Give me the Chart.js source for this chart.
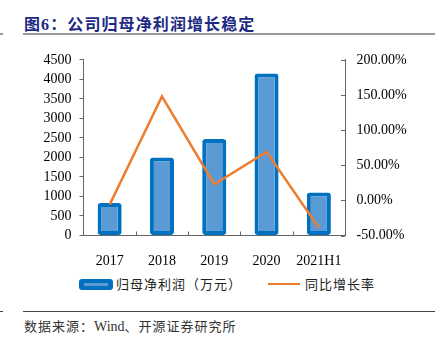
<!DOCTYPE html>
<html>
<head>
<meta charset="utf-8">
<script src="https://cdn.jsdelivr.net/npm/chart.js@4/dist/chart.umd.min.js"></script>
<style>
  body { margin: 0; width: 441px; height: 343px; background: #fff; position: relative; overflow: hidden; font-family: 'Noto Sans CJK SC', sans-serif; }
  .title { position: absolute; left: 24px; top: 12px; font-size: 16px; font-weight: 700; color: #1c2a84; letter-spacing: 1.1px; line-height: 22px; }
  .title .num { font-family: 'Liberation Serif', serif; }
  .rule { position: absolute; height: 0; }
  .chartBox { position: absolute; left: 0; top: 40px; width: 441px; height: 228px; }
  .legend { position: absolute; top: 275px; font-size: 13px; letter-spacing: 1px; color: #222; line-height: 18px; }
  .swatchBar { position: absolute; left: 79px; top: 279px; width: 34px; height: 11px; background: #0070C0; border-radius: 3px; }
  .swatchBar::after { content: ''; position: absolute; left: 5px; right: 5px; top: 4px; height: 3px; background: #5B9BD5; }
  .swatchLine { position: absolute; left: 268px; top: 283px; width: 32px; height: 2px; background: #ED7D31; }
  .source { position: absolute; left: 24px; top: 317px; font-size: 13px; letter-spacing: 1px; color: #333; line-height: 18px; }
  .source .en { font-family: 'Liberation Serif', serif; font-size: 14px; letter-spacing: 0; }
</style>
</head>
<body>
<div class="title">图<span class="num">6</span>：公司归母净利润增长稳定</div>
<div class="rule" style="left:0;top:33px;width:3px;border-top:2px solid #999;"></div>
<div class="rule" style="left:23px;top:33px;width:412px;border-top:2px solid #999;"></div>

<div class="chartBox"><canvas id="profitChart"></canvas></div>

<div class="swatchBar"></div>
<div class="legend" style="left:116px;">归母净利润（万元）</div>
<div class="swatchLine"></div>
<div class="legend" style="left:305px;">同比增长率</div>

<div class="rule" style="left:0;top:311px;width:3px;border-top:1px solid #444;"></div>
<div class="rule" style="left:23px;top:311px;width:412px;border-top:1px solid #444;"></div>
<div class="source">数据来源：<span class="en">Wind</span>、开源证券研究所</div>

<script>
// Data
const periods = ['2017', '2018', '2019', '2020', '2021H1'];
const netProfit = [830, 2000, 2470, 4150, 1100];     // 万元
const yoyGrowth = [-6, 148, 23, 69, -39];             // %

const leftTicks = { min: 0, max: 4500, step: 500 };
const rightTicks = { min: -50, max: 200, step: 50 };

const AXIS_COLOR = '#666';
const tickFont = { family: "'Liberation Serif', 'Times New Roman', serif", size: 14 };

// small tick marks pointing into the plot (right axis + category separators)
const innerTicks = {
    id: 'innerTicks',
    afterDraw(chart) {
        const { ctx, chartArea, scales } = chart;
        ctx.save();
        ctx.strokeStyle = AXIS_COLOR;
        ctx.lineWidth = 1;
        ctx.beginPath();
        scales.y1.ticks.forEach(t => {
            const y = Math.round(scales.y1.getPixelForValue(t.value)) + 0.5;
            ctx.moveTo(chartArea.right - 4, y);
            ctx.lineTo(chartArea.right, y);
        });
        for (let i = 1; i < periods.length; i++) {
            const x = Math.round((scales.x.getPixelForValue(i - 1) + scales.x.getPixelForValue(i)) / 2) + 0.5;
            ctx.moveTo(x, chartArea.bottom);
            ctx.lineTo(x, chartArea.bottom - 4);
        }
        ctx.stroke();
        ctx.restore();
    }
};

const ctx = document.getElementById('profitChart').getContext('2d');
new Chart(ctx, {
    data: {
        labels: periods,
        datasets: [
            {
                type: 'line',
                label: '同比增长率',
                data: yoyGrowth,
                yAxisID: 'y1',
                borderColor: '#ED7D31',
                borderWidth: 2.5,
                pointRadius: 0,
                tension: 0,
                order: 0
            },
            {
                type: 'bar',
                label: '归母净利润（万元）',
                data: netProfit,
                yAxisID: 'y',
                backgroundColor: '#5B9BD5',
                borderColor: '#0070C0',
                borderWidth: 4,
                borderRadius: 3,
                borderSkipped: false,
                barPercentage: 0.46,
                categoryPercentage: 1,
                order: 1
            }
        ]
    },
    options: {
        responsive: true,
        maintainAspectRatio: false,
        animation: false,
        layout: { padding: { top: 19, left: 0, right: 0, bottom: 0 } },
        plugins: {
            legend: { display: false },
            tooltip: { enabled: false }
        },
        scales: {
            x: {
                offset: true,
                grid: { display: false },
                border: { color: AXIS_COLOR, width: 1 },
                ticks: { color: '#000', font: tickFont, padding: 9, maxRotation: 0, autoSkip: false },
                afterFit(scale) { scale.height = 32.5; }
            },
            y: {
                position: 'left',
                min: leftTicks.min,
                max: leftTicks.max,
                grid: { drawOnChartArea: false, tickLength: 4, color: AXIS_COLOR },
                border: { color: AXIS_COLOR, width: 1 },
                ticks: {
                    stepSize: leftTicks.step,
                    autoSkip: false,
                    color: '#000',
                    font: tickFont,
                    padding: 8,
                    callback: v => String(v)
                },
                afterFit(scale) { scale.width = 83.5; }
            },
            y1: {
                position: 'right',
                min: rightTicks.min,
                max: rightTicks.max,
                grid: { drawOnChartArea: false, drawTicks: false },
                border: { color: AXIS_COLOR, width: 1 },
                ticks: {
                    stepSize: rightTicks.step,
                    autoSkip: false,
                    color: '#000',
                    font: tickFont,
                    padding: 11.5,
                    callback: v => v.toFixed(2) + '%'
                },
                afterFit(scale) { scale.width = 96; }
            }
        }
    },
    plugins: [innerTicks]
});
</script>
</body>
</html>
